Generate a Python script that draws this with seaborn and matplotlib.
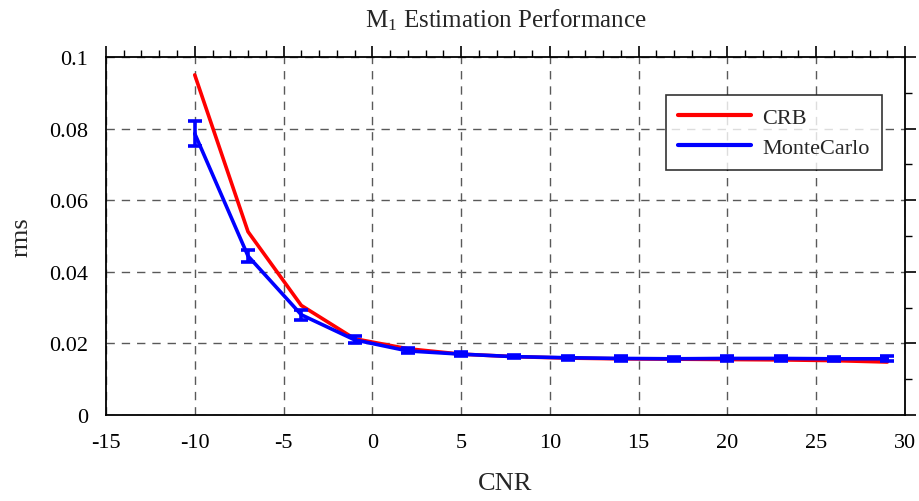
import numpy as np
import pandas as pd
import matplotlib
matplotlib.use("Agg")
import matplotlib.pyplot as plt
from matplotlib.ticker import MultipleLocator, FuncFormatter
import seaborn as sns

# ---------- Data ----------
cnr      = [-10, -7, -4, -1, 2, 5, 8, 11, 14, 17, 20, 23, 26, 29]
crb      = [0.0950, 0.0512, 0.0306, 0.0213, 0.0185, 0.0170, 0.0163, 0.0159,
            0.0157, 0.0156, 0.0155, 0.0154, 0.0152, 0.0148]
mc_mean  = [0.0786, 0.0444, 0.0280, 0.0210, 0.0179, 0.0170, 0.0163, 0.0160,
            0.0158, 0.0157, 0.0158, 0.0158, 0.0157, 0.0157]
mc_err   = [0.0035, 0.0017, 0.0014, 0.0010, 0.0007, 0.0006, 0.0005, 0.0006,
            0.0006, 0.0005, 0.0006, 0.0006, 0.0005, 0.0007]

df = pd.DataFrame({"CNR": cnr * 2,
                   "rms": crb + mc_mean,
                   "series": ["CRB"] * len(cnr) + ["MonteCarlo"] * len(cnr)})

# ---------- Style ----------
sns.set_style("white")
plt.rcParams["font.family"] = ["Liberation Serif", "DejaVu Serif"]
plt.rcParams["mathtext.fontset"] = "custom"
plt.rcParams["mathtext.rm"] = "Liberation Serif"
plt.rcParams["mathtext.it"] = "Liberation Serif"

fig = plt.figure(figsize=(9.19, 5.02), dpi=100)
ax = fig.add_axes([0.1153, 0.1713, 0.8695, 0.7132])

sns.lineplot(data=df, x="CNR", y="rms", hue="series",
             palette={"CRB": "#ff0000", "MonteCarlo": "#0000ff"},
             linewidth=2.6, ax=ax, legend=True, zorder=3)
ax.errorbar(cnr, mc_mean, yerr=mc_err, fmt="none", ecolor="#0000ff",
            elinewidth=2.6, capsize=5, capthick=2.6, zorder=4)

# ---------- Axes ----------
ax.set_xlim(-15, 30)
ax.set_ylim(0, 0.1)
ax.xaxis.set_major_locator(MultipleLocator(5))
ax.xaxis.set_minor_locator(MultipleLocator(1))
ax.yaxis.set_major_locator(MultipleLocator(0.02))
ax.yaxis.set_minor_locator(MultipleLocator(0.01))
ax.xaxis.set_major_formatter(FuncFormatter(lambda v, p: f"{v:g}"))
ax.yaxis.set_major_formatter(FuncFormatter(lambda v, p: f"{round(v, 4):g}"))

ax.tick_params(which="both", direction="out", top=True, right=True,
               colors="black", labelsize=16)
ax.tick_params(which="major", length=8, width=1.2, pad=5)
ax.tick_params(which="minor", length=5, width=1.0)
for s in ax.spines.values():
    s.set_color("black")
    s.set_linewidth(1.3)

ax.grid(True, which="major", color="0.35", linestyle=(0, (6, 5)), linewidth=1.0)
ax.set_axisbelow(True)

ax.set_xlabel("CNR", fontsize=19, labelpad=14)
ax.set_ylabel("rms", fontsize=19, labelpad=12)
ax.set_title(r"M$_1$ Estimation Performance", fontsize=18, pad=22)

leg = ax.legend(loc="upper right", bbox_to_anchor=(0.971, 0.894), fontsize=16,
                frameon=True, fancybox=False, handlelength=3.3,
                borderpad=0.55, labelspacing=0.45, handletextpad=0.5,
                borderaxespad=0)
leg.set_title(None)
leg.get_frame().set_edgecolor("black")
leg.get_frame().set_linewidth(1.2)
for line in leg.get_lines():
    line.set_linewidth(3)

fig.savefig("out.png", dpi=100)
